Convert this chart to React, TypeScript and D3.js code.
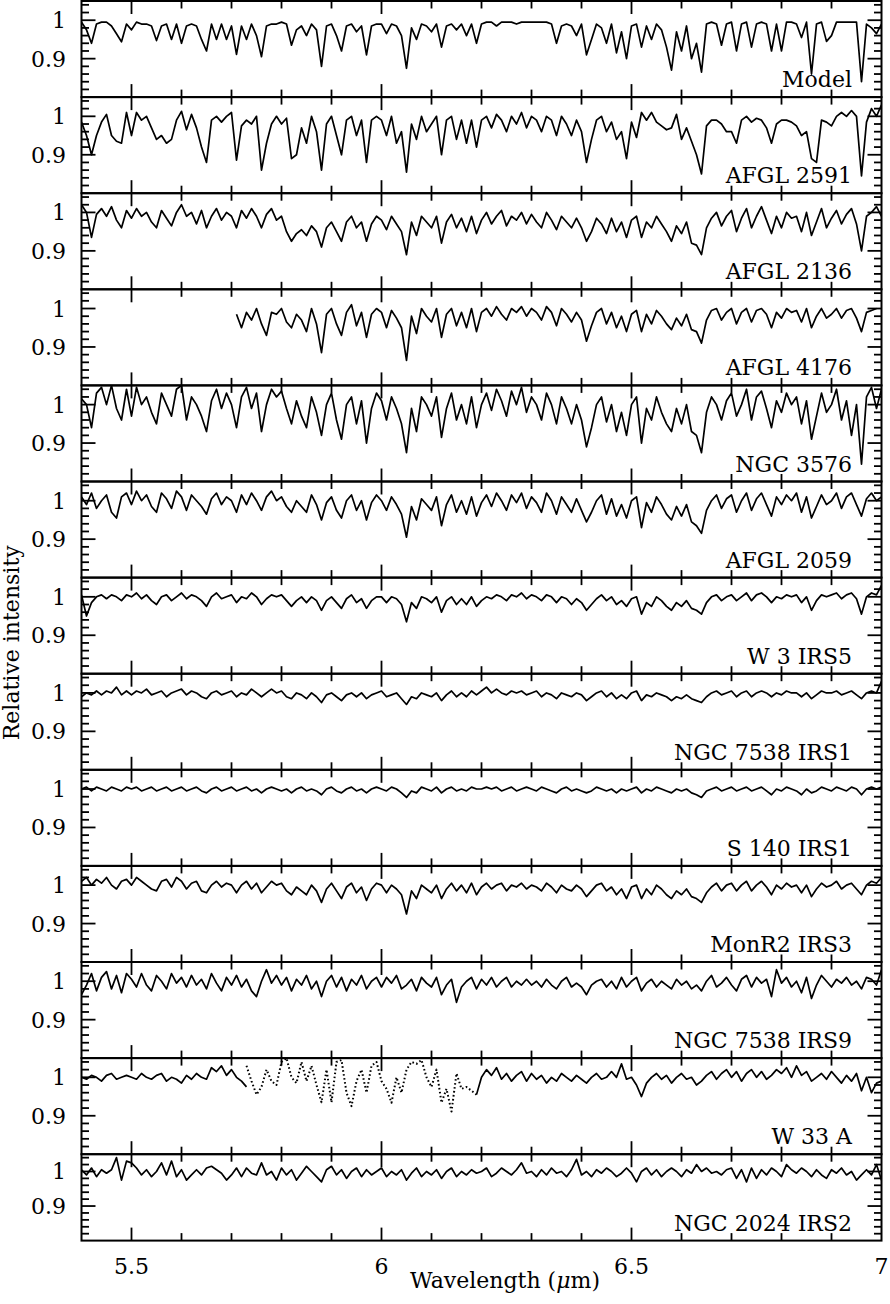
import * as d3 from "d3";

// wavelength grid: first point and step (micron)
const WL_START = 5.4;
const WL_STEP = 0.01;

const LABELS = [
  "Model", "AFGL 2591", "AFGL 2136", "AFGL 4176", "NGC 3576", "AFGL 2059",
  "W 3 IRS5", "NGC 7538 IRS1", "S 140 IRS1", "MonR2 IRS3", "NGC 7538 IRS9",
  "W 33 A", "NGC 2024 IRS2",
];

const X_TICK_LABELS = ["5.5", "6", "6.5", "7"];
const Y_TICK_LABELS = ["1", "0.9"];

const MODEL = [
  0.995, 0.975, 0.94, 0.99, 0.995, 0.995, 0.985, 0.965, 0.944, 0.99,
  0.975, 0.995, 0.99, 0.99, 0.985, 0.947, 0.985, 0.99, 0.95, 0.99,
  0.94, 0.985, 0.99, 0.985, 0.95, 0.92, 0.99, 0.95, 0.99, 0.95,
  0.985, 0.911, 0.985, 0.95, 0.99, 0.96, 0.905, 0.985, 0.99, 0.99,
  0.995, 0.99, 0.935, 0.975, 0.985, 0.96, 0.99, 0.975, 0.88, 0.985,
  0.99, 0.96, 0.92, 0.985, 0.99, 0.97, 0.985, 0.91, 0.985, 0.99,
  0.99, 0.965, 0.99, 0.985, 0.96, 0.875, 0.98, 0.95, 0.99, 0.985,
  0.97, 0.99, 0.93, 0.985, 0.99, 0.975, 0.99, 0.96, 0.99, 0.94,
  0.99, 0.995, 0.995, 0.985, 0.995, 0.995, 0.995, 0.99, 0.995, 0.995,
  0.995, 0.995, 0.995, 0.995, 0.99, 0.94, 0.985, 0.99, 0.985, 0.96,
  0.99, 0.91, 0.95, 0.99, 0.98, 0.94, 0.99, 0.915, 0.97, 0.90,
  0.985, 0.99, 0.93, 0.985, 0.95, 0.99, 0.975, 0.93, 0.87, 0.97,
  0.92, 0.985, 0.90, 0.94, 0.865, 0.99, 0.995, 0.99, 0.935, 0.99,
  0.995, 0.92, 0.99, 0.995, 0.93, 0.99, 0.995, 0.99, 0.92, 0.99,
  0.92, 0.995, 0.995, 0.99, 0.955, 0.995, 0.86, 0.99, 0.995, 0.945,
  0.96, 0.995, 0.995, 0.995, 0.995, 0.995, 0.84, 0.99, 0.98, 0.965,
  0.99,
];

const AFGL2591 = [
  0.985, 0.95, 0.90, 0.95, 0.985, 1.005, 0.95, 0.935, 0.93, 1.01,
  0.95, 1.01, 0.99, 1.0, 0.97, 0.94, 0.95, 0.93, 0.94, 0.99,
  1.013, 0.965, 1.005, 0.97, 0.92, 0.88, 0.99, 1.0, 0.985, 1.0,
  1.01, 0.886, 0.975, 0.99, 0.98, 1.0, 0.86, 0.93, 0.98, 1.0,
  0.98, 0.995, 0.89, 0.90, 0.97, 0.93, 1.0, 0.96, 0.86, 0.98,
  1.0, 0.95, 0.90, 0.99, 1.0, 0.95, 0.99, 0.88, 0.99, 1.0,
  0.99, 0.95, 1.0, 0.93, 0.96, 0.855, 0.98, 0.94, 1.0, 0.96,
  0.98, 1.0, 0.90, 0.99, 1.0, 0.94, 0.99, 0.93, 0.99, 0.92,
  0.99, 1.0, 0.97, 1.005, 0.99, 0.96, 1.0, 0.98, 1.01, 0.97,
  1.0, 0.99, 0.96, 1.0, 0.99, 0.95, 1.0, 0.98, 0.95, 0.99,
  0.96, 0.88, 0.94, 0.99, 1.0, 0.96, 0.985, 0.94, 0.96, 0.89,
  0.985, 0.945, 1.01, 0.99, 1.01, 0.985, 0.975, 0.965, 0.97, 1.005,
  0.94, 0.97, 0.935, 0.90, 0.85, 0.975, 0.99, 0.99, 0.98, 0.96,
  0.96, 0.93, 0.99, 1.0, 0.985, 0.995, 0.99, 0.97, 0.93, 0.98,
  0.99, 0.99, 0.985, 0.975, 0.95, 0.96, 0.89, 0.88, 0.99, 0.985,
  0.975, 1.0, 1.01, 1.0, 1.015, 1.0, 0.845, 0.985, 1.02, 1.0,
  1.03,
];

const AFGL2136 = [
  1.02, 1.0, 0.935, 0.995, 1.01, 0.99, 1.015, 0.98, 0.96, 1.005,
  0.985, 1.01, 0.99, 1.0, 0.975, 0.96, 1.005, 0.985, 0.965, 1.0,
  1.02, 0.99, 1.0, 0.97, 1.005, 0.96, 0.99, 1.01, 0.98, 1.0,
  0.99, 0.96, 1.005, 0.985, 1.01, 0.99, 0.96, 0.995, 1.01, 0.98,
  0.99, 0.95, 0.925, 0.945, 0.955, 0.94, 0.965, 0.95, 0.91, 0.96,
  0.975, 0.95, 0.925, 0.975, 0.99, 0.96, 0.975, 0.925, 0.97, 0.99,
  0.98, 0.955, 0.99, 0.97, 0.95, 0.89, 0.975, 0.94, 0.99, 0.975,
  0.96, 0.99, 0.92, 0.975, 0.995, 0.96, 0.985, 0.95, 0.99, 0.945,
  0.98, 1.0, 0.97, 0.99, 1.005, 0.965, 0.99, 0.98, 1.0, 0.97,
  0.995, 0.975, 0.96, 1.0, 0.98, 0.955, 0.99, 0.975, 0.96, 0.985,
  0.96, 0.925, 0.95, 0.985, 0.97, 0.945, 0.985, 0.95, 0.975, 0.935,
  0.98, 0.99, 0.935, 0.975, 0.96, 0.99, 0.97, 0.95, 0.925, 0.965,
  0.945, 0.975, 0.92, 0.915, 0.89, 0.96, 0.985, 1.0, 0.965, 0.99,
  1.005, 0.95, 0.985, 1.01, 0.96, 0.99, 1.015, 0.98, 0.945, 0.99,
  0.96, 1.0, 0.985, 0.99, 0.95, 1.0, 0.94, 0.975, 1.01, 0.96,
  0.985, 1.005, 0.97, 0.995, 1.01, 0.97, 0.90, 0.99, 1.0, 1.015,
  0.99,
];

// AFGL 4176 starts at 5.71 micron
const AFGL4176_START = 5.71;
const AFGL4176 = [
  0.985, 0.95, 0.99, 0.97, 1.0, 0.96, 0.93, 0.99, 0.985,
  1.0, 0.965, 0.95, 0.985, 0.97, 0.94, 1.0, 0.96, 0.885, 0.985,
  1.0, 0.96, 0.93, 0.99, 1.01, 0.955, 0.99, 0.925, 0.985, 1.0,
  0.99, 0.95, 0.995, 0.975, 0.95, 0.865, 0.98, 0.935, 1.0, 0.98,
  0.965, 1.0, 0.925, 0.985, 1.0, 0.955, 0.99, 0.95, 1.0, 0.94,
  0.99, 1.0, 0.98, 1.005, 0.985, 0.97, 1.0, 0.99, 1.005, 0.98,
  1.0, 0.99, 0.97, 1.005, 0.99, 0.955, 1.0, 0.985, 0.965, 0.99,
  0.97, 0.915, 0.955, 0.99, 1.0, 0.96, 0.99, 0.95, 0.98, 0.94,
  0.985, 0.995, 0.94, 0.985, 0.96, 0.995, 0.98, 0.96, 0.945, 0.975,
  0.955, 0.985, 0.945, 0.94, 0.91, 0.97, 0.995, 1.0, 0.97, 0.99,
  1.0, 0.96, 0.99, 1.0, 0.965, 0.995, 1.0, 0.985, 0.95, 0.99,
  0.975, 1.0, 0.99, 0.995, 0.965, 1.0, 0.95, 0.98, 1.0, 0.975,
  0.985, 1.0, 0.975, 0.995, 1.0, 0.975, 0.94, 0.99, 0.995, 1.0,
];

const NGC3576 = [
  1.015, 1.0, 0.94, 1.03, 1.045, 1.0, 1.05, 0.99, 0.96, 1.04,
  0.97, 1.045, 1.0, 1.02, 0.98, 0.95, 1.03, 1.0, 0.97, 1.04,
  1.05, 0.96, 1.02, 1.0, 0.97, 0.93, 1.01, 1.04, 0.99, 1.03,
  1.0, 0.94, 1.02, 1.045, 0.99, 1.03, 0.93, 1.0, 1.04, 1.02,
  1.035, 0.99, 0.95, 1.01, 0.97, 0.94, 1.02, 0.98, 0.92, 1.0,
  1.03, 0.96, 0.91, 1.0, 1.02, 0.95, 1.01, 0.90, 0.99, 1.03,
  1.01, 0.96, 1.02, 0.99, 0.95, 0.875, 0.99, 0.93, 1.02, 1.0,
  0.97, 1.02, 0.915, 0.99, 1.03, 0.96, 1.0, 0.95, 1.02, 0.94,
  1.0, 1.03, 0.985, 1.04, 1.01, 0.97, 1.035, 1.0, 1.045, 0.98,
  1.02, 1.0, 0.96, 1.03, 1.0, 0.95, 1.02, 0.99, 0.95, 1.0,
  0.96, 0.89, 0.94, 1.0, 1.02, 0.955, 1.0, 0.93, 0.98, 0.92,
  1.0, 1.02, 0.90, 0.99, 0.96, 1.02, 0.98, 0.95, 0.93, 0.99,
  0.95, 1.0, 0.93, 0.92, 0.875, 0.98, 1.02, 1.0, 0.96, 1.01,
  1.03, 0.97, 1.0, 1.04, 0.96, 1.02, 1.035, 0.99, 0.94, 1.01,
  0.98, 1.03, 1.0, 1.02, 0.95, 1.01, 0.91, 0.97, 1.03, 0.98,
  1.0, 1.04, 0.96, 1.01, 0.92, 1.0, 0.845, 1.02, 1.045, 0.99,
  1.04,
];

const AFGL2059 = [
  1.01, 0.99, 1.02, 0.98, 1.0, 1.015, 0.97, 0.955, 1.01, 1.02,
  0.99, 1.025, 1.0, 1.015, 0.985, 0.97, 1.02, 1.005, 0.98, 1.025,
  1.01, 0.975, 1.015, 1.0, 0.985, 0.965, 1.005, 1.02, 0.99, 1.01,
  1.0, 0.97, 1.015, 0.99, 1.02, 1.0, 0.975, 1.01, 1.025, 1.0,
  1.01, 0.985, 0.97, 1.0, 0.985, 0.97, 1.015, 0.99, 0.95, 0.995,
  1.01, 0.975, 0.955, 1.0, 1.015, 0.975, 1.0, 0.95, 0.995, 1.015,
  1.0, 0.975, 1.01, 0.99, 0.965, 0.905, 0.985, 0.95, 1.005, 0.99,
  0.975, 1.01, 0.935, 0.99, 1.015, 0.97, 1.0, 0.965, 1.01, 0.96,
  0.995, 1.015, 0.985, 1.02, 1.0, 0.975, 1.015, 0.995, 1.02, 0.98,
  1.01, 0.995, 0.97, 1.02, 1.0, 0.965, 1.01, 0.99, 0.97, 1.005,
  0.975, 0.945, 0.97, 1.0, 1.015, 0.965, 1.005, 0.96, 0.99, 0.955,
  1.0, 1.01, 0.93, 0.995, 0.97, 1.01, 0.99, 0.965, 0.95, 0.985,
  0.96, 0.99, 0.945, 0.935, 0.915, 0.975, 1.0, 1.015, 0.98, 1.005,
  1.015, 0.97, 1.0, 1.02, 0.975, 1.005, 1.02, 0.99, 0.96, 1.01,
  0.99, 1.015, 1.0, 1.02, 0.97, 1.01, 0.955, 0.985, 1.015, 0.99,
  1.0, 1.02, 0.98, 1.01, 1.02, 0.99, 0.96, 1.005, 1.02, 1.0,
  1.01,
];

const W3IRS5 = [
  1.005, 0.95, 0.985, 1.0, 1.005, 0.995, 1.005, 1.0, 0.99, 1.005,
  1.0, 1.01, 0.995, 1.005, 0.99, 0.98, 1.0, 1.005, 0.99, 1.0,
  1.01, 0.995, 1.005, 1.0, 0.99, 0.975, 1.0, 1.01, 0.995, 1.0,
  1.005, 0.985, 1.0, 0.995, 1.01, 1.0, 0.98, 0.995, 1.005, 1.0,
  1.005, 0.99, 0.975, 0.99, 1.0, 0.985, 1.0, 0.99, 0.965, 0.99,
  1.0, 0.985, 0.97, 0.995, 1.005, 0.985, 0.995, 0.97, 0.99, 1.0,
  1.0, 0.985, 1.0, 0.995, 0.98, 0.935, 0.985, 0.97, 1.0, 0.995,
  0.985, 1.0, 0.96, 0.99, 1.0, 0.98, 0.995, 0.98, 1.0, 0.975,
  0.99, 1.0, 0.995, 1.005, 1.0, 0.99, 1.005, 1.0, 1.01, 0.995,
  1.005, 1.0, 0.99, 1.005, 1.0, 0.985, 1.0, 0.995, 0.98, 0.995,
  0.985, 0.965, 0.98, 0.995, 1.005, 0.99, 1.0, 0.98, 0.99, 0.975,
  0.995, 1.0, 0.955, 0.985, 0.975, 1.0, 0.99, 0.975, 0.965, 0.985,
  0.975, 0.99, 0.97, 0.965, 0.955, 0.985, 1.0, 1.005, 0.99, 1.0,
  1.005, 0.99, 1.0, 1.01, 0.99, 1.005, 1.01, 1.0, 0.985, 1.0,
  0.995, 1.005, 1.0, 1.005, 0.985, 1.0, 0.965, 0.99, 1.005, 1.0,
  1.005, 1.01, 0.995, 1.005, 1.01, 0.995, 0.955, 1.0, 1.01, 1.005,
  1.03,
];

const NGC7538IRS1 = [
  0.99, 1.0, 0.995, 1.005, 0.995, 1.005, 1.0, 1.015, 0.995, 1.005,
  0.995, 1.005, 1.0, 1.01, 0.995, 1.0, 1.005, 0.99, 1.0, 1.005,
  1.01, 0.995, 1.005, 1.0, 0.99, 0.985, 1.0, 1.005, 0.995, 1.0,
  1.005, 0.99, 1.0, 0.995, 1.01, 1.0, 0.99, 1.0, 1.01, 1.0,
  1.005, 0.99, 0.985, 1.0, 0.995, 0.985, 1.0, 0.99, 0.975, 0.995,
  1.0, 0.99, 0.98, 0.995, 1.0, 0.99, 1.0, 0.985, 0.995, 1.0,
  1.005, 0.99, 0.995, 1.0, 0.985, 0.97, 0.99, 0.985, 1.0, 0.995,
  0.99, 1.0, 0.98, 0.995, 1.005, 0.99, 1.0, 0.99, 1.005, 0.995,
  1.005, 1.015, 1.0, 1.01, 1.0, 0.995, 1.005, 1.0, 1.005, 0.995,
  1.0, 1.005, 0.99, 1.0, 0.995, 0.985, 1.0, 0.995, 0.99, 1.0,
  0.995, 0.98, 0.99, 1.0, 1.005, 0.99, 1.0, 0.985, 0.995, 0.985,
  1.0, 1.005, 0.98, 0.995, 0.99, 1.0, 0.995, 0.99, 0.98, 0.99,
  0.985, 0.995, 0.985, 0.98, 0.975, 0.99, 1.0, 1.005, 0.995, 1.0,
  1.005, 0.99, 1.0, 1.005, 0.99, 1.0, 1.005, 1.0, 0.99, 1.0,
  0.995, 1.005, 1.0, 1.0, 0.99, 1.0, 0.985, 0.995, 1.005, 1.0,
  1.0, 1.005, 0.995, 1.0, 1.005, 0.995, 0.985, 1.0, 1.005, 1.0,
  1.03,
];

const S140IRS1 = [
  1.0, 1.005, 0.995, 1.005, 1.0, 0.995, 1.005, 1.0, 0.995, 1.005,
  1.0, 1.005, 0.995, 1.0, 1.005, 0.995, 1.0, 1.005, 0.995, 1.0,
  1.005, 0.995, 1.0, 1.005, 0.995, 0.99, 1.0, 1.005, 0.995, 1.0,
  1.005, 0.995, 1.0, 1.005, 0.995, 1.0, 0.99, 1.0, 1.005, 1.0,
  0.995, 1.0, 0.99, 1.0, 1.005, 0.995, 1.0, 0.995, 0.985, 1.0,
  1.005, 0.995, 0.99, 1.0, 1.005, 0.995, 1.0, 0.99, 1.0, 1.005,
  1.0, 0.995, 1.005, 1.0, 0.99, 0.978, 0.995, 0.99, 1.005, 1.0,
  0.995, 1.005, 0.99, 1.0, 1.005, 0.995, 1.0, 0.995, 1.005, 1.0,
  1.0, 1.005, 1.0, 1.005, 0.995, 1.0, 1.005, 0.995, 1.0, 1.005,
  1.0, 0.995, 1.005, 1.0, 0.995, 0.99, 1.0, 1.005, 0.995, 1.0,
  0.995, 0.99, 0.995, 1.005, 1.0, 0.995, 1.0, 0.99, 1.0, 0.995,
  1.0, 1.005, 0.99, 1.0, 0.995, 1.005, 1.0, 0.995, 0.99, 1.0,
  0.995, 1.0, 0.99, 0.985, 0.978, 0.995, 1.0, 1.005, 0.995, 1.0,
  1.005, 0.995, 1.0, 1.005, 0.995, 1.0, 1.005, 0.995, 0.985, 1.0,
  0.995, 1.005, 1.0, 0.995, 0.985, 1.0, 0.99, 0.995, 1.005, 1.0,
  0.995, 1.005, 1.0, 0.995, 1.005, 1.0, 0.985, 1.0, 1.005, 1.0,
  1.005,
];

const MONR2IRS3 = [
  1.01, 1.02, 1.0, 1.015, 1.005, 1.02, 1.0, 0.99, 1.01, 1.015,
  1.0, 1.02, 1.01, 1.0, 0.99, 0.985, 1.01, 1.015, 0.995, 1.02,
  1.01, 0.99, 1.005, 1.01, 0.985, 0.98, 1.0, 1.01, 0.995, 1.005,
  1.0, 0.98, 1.0, 1.01, 0.99, 1.005, 0.98, 0.995, 1.01, 1.0,
  1.005, 0.985, 0.975, 0.995, 0.985, 0.975, 1.0, 0.985, 0.955, 0.99,
  1.005, 0.985, 0.965, 0.995, 1.005, 0.98, 0.995, 0.96, 0.99, 1.005,
  1.0, 0.98, 1.0, 0.99, 0.975, 0.925, 0.985, 0.965, 1.0, 0.99,
  0.98, 1.0, 0.965, 0.99, 1.005, 0.985, 1.0, 0.98, 1.005, 0.975,
  0.995, 1.005, 0.99, 1.0, 1.005, 0.985, 1.0, 0.995, 1.005, 0.99,
  1.0, 0.995, 0.985, 1.005, 0.995, 0.98, 1.0, 0.99, 0.985, 1.0,
  0.99, 0.97, 0.985, 1.0, 1.005, 0.985, 0.995, 0.975, 0.99, 0.965,
  0.995, 1.0, 0.965, 0.99, 0.975, 1.0, 0.99, 0.975, 0.965, 0.985,
  0.975, 0.99, 0.97, 0.965, 0.955, 0.98, 0.995, 1.005, 0.985, 1.0,
  1.005, 0.985, 1.0, 1.01, 0.985, 1.0, 1.01, 0.995, 0.975, 1.0,
  0.99, 1.005, 0.995, 1.0, 0.98, 1.0, 0.97, 0.99, 1.005, 0.995,
  1.0, 1.01, 0.99, 1.0, 1.005, 0.99, 0.975, 1.0, 1.01, 1.005,
  1.02,
];

const NGC7538IRS9 = [
  0.965, 0.99, 1.02, 0.975, 1.01, 1.025, 0.98, 1.015, 0.97, 1.02,
  1.005, 0.985, 1.02, 0.99, 0.975, 1.015, 1.0, 0.98, 1.02, 0.995,
  1.01, 0.985, 1.015, 0.99, 1.005, 0.98, 1.02, 0.995, 0.975, 1.01,
  0.99, 1.015, 0.985, 1.005, 0.975, 0.96, 1.0, 1.03, 0.995, 1.015,
  0.99, 1.01, 0.975, 1.005, 0.99, 1.015, 0.98, 1.0, 0.96, 1.0,
  1.015, 0.985, 1.01, 0.975, 1.005, 0.99, 1.015, 0.98, 1.0, 1.01,
  0.985, 1.01, 0.995, 1.015, 0.98, 0.99, 1.005, 0.975, 1.01, 0.995,
  0.985, 1.01, 0.965, 0.99, 1.005, 0.945, 0.985, 1.0, 1.01, 0.98,
  1.005, 0.99, 1.01, 0.985, 1.0, 1.01, 0.985, 1.0, 0.99, 1.005,
  0.99, 1.0, 0.985, 1.005, 0.99, 0.98, 1.0, 1.01, 0.985, 0.995,
  0.985, 0.965, 0.99, 1.0, 1.005, 0.985, 1.0, 0.98, 1.01, 0.985,
  1.0, 1.01, 0.975, 0.995, 1.005, 0.985, 1.0, 0.99, 0.98, 1.005,
  0.99, 1.0, 0.98, 0.99, 0.975, 1.0, 1.015, 0.985, 0.995, 1.01,
  0.99, 0.975, 1.005, 1.015, 0.985, 1.01, 0.995, 1.005, 0.96, 1.03,
  0.995, 1.01, 0.985, 1.0, 0.97, 1.01, 0.955, 0.99, 1.015, 1.0,
  0.985, 1.005, 0.995, 1.01, 0.99, 1.0, 0.98, 1.01, 1.005, 0.99,
  1.03,
];

// W 33 A: observed pieces either side of a gap, plus the dotted piece in the gap
const W33A_BLUE_START = 5.4;
const W33A_BLUE = [
  1.0, 0.995, 1.005, 1.0, 0.99, 1.005, 1.01, 0.995, 1.0, 1.005,
  1.0, 0.995, 1.01, 1.0, 0.995, 1.005, 1.01, 0.99, 1.0, 0.995,
  0.985, 1.005, 0.995, 1.01, 1.0, 0.995, 1.025, 1.015, 1.03, 1.005,
  1.02, 1.0, 0.99, 0.975,
];
const W33A_RED_START = 6.19;
const W33A_RED = [
  0.955, 1.0, 1.02, 1.005, 1.025, 0.995, 1.01, 0.99, 1.005, 1.015, 0.99,
  1.01, 0.995, 1.005, 0.985, 1.0, 0.99, 1.01, 1.0, 0.99, 1.005,
  0.995, 0.985, 1.0, 1.01, 0.995, 1.0, 1.015, 1.0, 1.035, 0.995,
  1.0, 0.98, 0.95, 0.985, 1.0, 1.01, 0.995, 1.005, 0.985, 1.0,
  1.01, 0.995, 1.0, 0.98, 0.99, 1.005, 1.015, 0.995, 1.01, 1.02,
  1.0, 1.015, 0.99, 1.01, 1.02, 1.0, 1.015, 0.995, 1.005, 1.02,
  1.01, 1.025, 1.0, 1.03, 1.005, 1.015, 0.99, 1.0, 1.01, 0.995,
  1.015, 1.0, 0.985, 1.005, 0.99, 1.01, 0.965, 1.0, 0.96, 0.985,
  0.99,
];
const W33A_GAP_START = 5.73;
const W33A_GAP = [
  1.03, 0.99, 0.955, 0.975, 1.02, 0.99, 0.98, 1.04, 1.05, 1.0,
  0.985, 1.04, 0.99, 1.03, 0.98, 0.935, 1.02, 0.935, 1.04, 1.045,
  0.96, 0.925, 0.99, 1.02, 0.96, 1.03, 1.04, 0.99, 0.97, 0.934,
  1.0, 0.96, 1.02, 1.04, 1.035, 1.045, 1.0, 0.975, 1.02, 0.934,
  0.97, 0.911, 1.01, 0.97, 0.975, 0.965, 0.955,
];

const NGC2024IRS2 = [
  1.005, 0.99, 1.01, 0.985, 1.005, 0.995, 1.005, 1.04, 0.975, 1.03,
  1.025, 1.01, 0.99, 1.005, 0.985, 1.0, 1.025, 0.99, 1.03, 0.985,
  1.005, 0.975, 0.99, 1.005, 0.99, 1.01, 1.015, 1.005, 0.995, 0.975,
  0.99, 1.01, 0.985, 1.01, 0.995, 0.99, 1.025, 0.99, 1.0, 0.975,
  1.01, 0.99, 1.005, 0.975, 0.995, 1.015, 1.0, 0.985, 0.97, 1.005,
  1.015, 0.99, 1.005, 0.98, 1.0, 1.01, 0.985, 1.005, 0.99, 1.0,
  1.01, 0.985, 1.0, 0.99, 1.005, 0.975, 0.995, 1.01, 0.985, 1.0,
  0.99, 1.005, 0.98, 1.0, 1.01, 0.985, 1.0, 0.99, 1.005, 0.995,
  1.0, 1.01, 0.985, 0.995, 1.01, 1.0, 0.99, 1.005, 1.025, 0.995,
  1.0, 0.985, 1.005, 0.99, 1.01, 0.995, 1.0, 0.985, 1.005, 1.035,
  0.99, 1.0, 0.985, 1.005, 0.995, 1.01, 1.0, 0.985, 0.995, 1.01,
  0.995, 0.97, 1.0, 1.01, 0.99, 1.005, 0.985, 1.0, 1.01, 1.0,
  0.985, 1.005, 0.995, 1.02, 1.0, 1.01, 0.995, 1.0, 0.99, 1.005,
  1.01, 0.98, 1.005, 0.97, 1.01, 0.98, 1.005, 0.99, 1.01, 1.0,
  0.985, 1.02, 1.005, 0.995, 1.01, 1.0, 0.985, 1.005, 0.99, 0.98,
  1.005, 0.995, 1.01, 0.99, 1.0, 0.975, 0.99, 1.005, 0.99, 1.02,
  0.975,
];

type Segment = { start: number; values: number[]; dotted?: boolean };

const SPECTRA: { label: string; segments: Segment[] }[] = [
  { label: LABELS[0], segments: [{ start: WL_START, values: MODEL }] },
  { label: LABELS[1], segments: [{ start: WL_START, values: AFGL2591 }] },
  { label: LABELS[2], segments: [{ start: WL_START, values: AFGL2136 }] },
  { label: LABELS[3], segments: [{ start: AFGL4176_START, values: AFGL4176 }] },
  { label: LABELS[4], segments: [{ start: WL_START, values: NGC3576 }] },
  { label: LABELS[5], segments: [{ start: WL_START, values: AFGL2059 }] },
  { label: LABELS[6], segments: [{ start: WL_START, values: W3IRS5 }] },
  { label: LABELS[7], segments: [{ start: WL_START, values: NGC7538IRS1 }] },
  { label: LABELS[8], segments: [{ start: WL_START, values: S140IRS1 }] },
  { label: LABELS[9], segments: [{ start: WL_START, values: MONR2IRS3 }] },
  { label: LABELS[10], segments: [{ start: WL_START, values: NGC7538IRS9 }] },
  {
    label: LABELS[11],
    segments: [
      { start: W33A_BLUE_START, values: W33A_BLUE },
      { start: W33A_GAP_START, values: W33A_GAP, dotted: true },
      { start: W33A_RED_START, values: W33A_RED },
    ],
  },
  { label: LABELS[12], segments: [{ start: WL_START, values: NGC2024IRS2 }] },
];

const FONT = "'DejaVu Serif', 'Liberation Serif', serif";
const FS = 22;
const X0 = 81.5;
const X1 = 881.5;
const TOP = 1;
const PANEL_H = 96.1;
const LAST_H = 86.4;

export default function App() {
  const x = d3.scaleLinear().domain([5.4, 7.0]).range([X0, X1]);
  const yTicks = d3.range(41, 53).map(k => k * 0.02); // 0.82 .. 1.04
  const xTicks = d3.range(55, 70).map(k => k / 10); // 5.5 .. 6.9
  const isMajorY = (v: number) => Math.abs(v - 1) < 1e-6 || Math.abs(v - 0.9) < 1e-6;
  const isMajorX = (v: number) => Math.abs(v * 2 - Math.round(v * 2)) < 1e-6;
  const n = SPECTRA.length;
  const bottomY = TOP + (n - 1) * PANEL_H + LAST_H;

  return (
    <div style={{ position: "absolute", left: 0, top: 0 }}>
      <svg width={890} height={1304} style={{ display: "block", background: "#fff" }}>
        <defs>
          {SPECTRA.map((s, k) => {
            const y0 = TOP + k * PANEL_H;
            const h = k === n - 1 ? LAST_H : PANEL_H;
            return (
              <clipPath id={`clip${k}`} key={k}>
                <rect x={X0} y={y0} width={X1 - X0} height={h} />
              </clipPath>
            );
          })}
        </defs>
        {SPECTRA.map((s, k) => {
          const y0 = TOP + k * PANEL_H;
          const h = k === n - 1 ? LAST_H : PANEL_H;
          const y = d3.scaleLinear().domain([0.8, 1.05]).range([y0 + h, y0]);
          return (
            <g key={s.label}>
              <g clipPath={`url(#clip${k})`}>
                {s.segments.map((seg, j) => {
                  const line = d3
                    .line<number>()
                    .x((_, i) => x(seg.start + i * WL_STEP))
                    .y(d => y(d));
                  return (
                    <path
                      key={j}
                      d={line(seg.values) ?? ""}
                      fill="none"
                      stroke="#000"
                      strokeWidth={seg.dotted ? 2 : 1.7}
                      strokeDasharray={seg.dotted ? "1.6 2.4" : undefined}
                      strokeLinejoin="round"
                    />
                  );
                })}
              </g>
              <rect x={X0} y={y0} width={X1 - X0} height={h} fill="none" stroke="#000" strokeWidth={2} />
              {yTicks.map(v => {
                const len = isMajorY(v) ? 14 : 7.5;
                return (
                  <g key={v} stroke="#000" strokeWidth={1.8}>
                    <line x1={X0} x2={X0 + len} y1={y(v)} y2={y(v)} />
                    <line x1={X1} x2={X1 - len} y1={y(v)} y2={y(v)} />
                  </g>
                );
              })}
              {xTicks.map(v => {
                const len = isMajorX(v) ? 13 : 7.5;
                return (
                  <g key={v} stroke="#000" strokeWidth={1.8}>
                    <line x1={x(v)} x2={x(v)} y1={y0} y2={y0 + len} />
                    <line x1={x(v)} x2={x(v)} y1={y0 + h} y2={y0 + h - len} />
                  </g>
                );
              })}
              {Y_TICK_LABELS.map(t => (
                <text
                  key={t}
                  x={66}
                  y={y(+t) + 8}
                  textAnchor="end"
                  fontFamily={FONT}
                  fontSize={FS}
                >
                  {t}
                </text>
              ))}
              <text x={852} y={y0 + h - 10} textAnchor="end" fontFamily={FONT} fontSize={FS}>
                {s.label}
              </text>
            </g>
          );
        })}
        {X_TICK_LABELS.map(t => (
          <text key={t} x={x(+t)} y={bottomY + 33} textAnchor="middle" fontFamily={FONT} fontSize={FS}>
            {t}
          </text>
        ))}
        <text x={505} y={bottomY + 47} textAnchor="middle" fontFamily={FONT} fontSize={FS}>
          Wavelength (<tspan fontStyle="italic">μ</tspan>m)
        </text>
        <text
          transform={`translate(19, ${(TOP + bottomY) / 2 + 22}) rotate(-90)`}
          textAnchor="middle"
          fontFamily={FONT}
          fontSize={FS}
        >
          Relative intensity
        </text>
      </svg>
    </div>
  );
}
